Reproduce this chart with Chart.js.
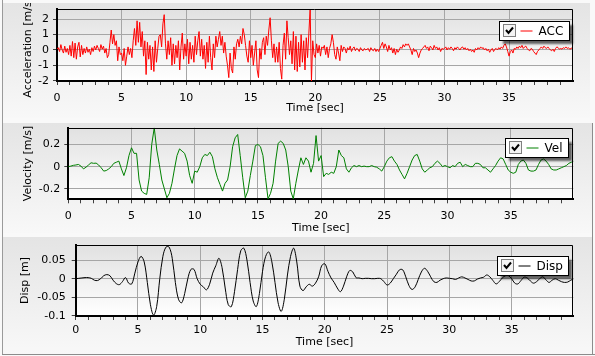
<!DOCTYPE html>
<html><head><meta charset="utf-8">
<script src="https://cdn.jsdelivr.net/npm/chart.js@4.4.1/dist/chart.umd.min.js"></script>
<style>
html,body{margin:0;padding:0;background:#f9f9f9;width:595px;height:356px;overflow:hidden;position:relative}
.lline{position:absolute;left:2px;top:0;width:1px;height:355px;background:#9a9a9a}
.bline{position:absolute;left:2px;top:354px;width:593px;height:1px;background:#8c8c8c}
.rline{position:absolute;left:592px;top:123px;width:1px;height:231px;background:#8c8c8c}
.panel{position:absolute;left:3px;overflow:hidden;background:linear-gradient(#e4e4e4,#f8f8f8)}
canvas{display:block}
</style></head><body>
<div class="lline"></div><div class="rline"></div><div class="bline"></div>
<div class="panel" style="top:3px;width:587px;height:115px"><canvas id="c1" width="587" height="115"></canvas></div>
<div class="panel" style="top:123px;width:589px;height:110px"><canvas id="c2" width="589" height="110"></canvas></div>
<div class="panel" style="top:237px;width:589px;height:117px"><canvas id="c3" width="589" height="117"></canvas></div>
<script>
// ---------------- data ----------------
const timeMax = 39.95;
const timeMajorTicks = [0, 5, 10, 15, 20, 25, 30, 35];
const accTicks = [-2, -1, 0, 1, 2];
const velTicks = [-0.2, 0, 0.2];
const dispTicks = [-0.1, -0.05, 0, 0.05];

const accStep = 0.1;   // seconds between acceleration samples
const accValues = [
 0.05, 0.15, -0.1, 0.35, 0.0, -0.2, 0.25, -0.15, 0.1, -0.3,
 0.3, -0.4, 0.55, -0.5, 0.45, -0.6, 0.2, 0.5, -0.45, 0.3,
 -0.3, 0.1, -0.2, 0.2, -0.15, 0.05, -0.3, 0.15, -0.1, 0.25,
 0.0, 0.3, 0.1, -0.1, 0.35, 0.05, 0.25, -0.2, 0.1, -0.5,
 -0.3, 0.5, 1.3, 0.4, 1.0, 0.3, 0.6, -0.7, 0.2, -0.3,
 -0.2, -0.7, 0.1, -1.0, -0.4, 0.2, -0.3, 0.1, -0.5, 0.6,
 1.4, 0.3, 1.9, 0.5, 1.8, 0.2, 1.2, -0.4, 0.6, -1.6,
 0.5, -0.6, 0.3, -1.3, 0.2, -1.4, 0.6, -0.8, 0.1, 0.9,
 1.0, 0.2, 1.7, 2.3, 0.4, -0.6, 0.6, -0.3, 0.8, -1.0,
 0.4, -0.9, 0.3, -0.5, 0.6, -1.3, 0.2, 1.1, -0.6, 0.4,
 -0.4, 0.7, -0.9, 0.5, -0.6, 0.3, -0.8, 0.9, -0.3, 0.6,
 1.2, -0.4, 0.7, -0.6, 0.3, -1.2, 0.5, -0.8, 0.9, -0.5,
 -1.3, 0.4, -0.5, 0.9, 0.2, 0.7, 1.2, 0.3, 0.9, -0.2,
 0.5, -0.4, -1.0, -1.8, -0.2, -1.2, -1.5, 0.2, -0.6, 0.4,
 0.7, 0.2, 0.9, 0.4, 1.4, 1.0, 0.3, -0.4, -0.8, 0.6,
 -0.5, 0.3, -1.0, -0.2, 0.6, -1.3, -1.8, 0.1, -0.6, 0.5,
 0.8, -0.3, 0.9, 0.3, 1.3, 2.1, 0.6, -0.5, 0.4, -0.8,
 0.2, -0.8, 0.5, -1.2, -1.9, 0.3, 1.1, -0.6, 1.9, 0.8,
 -0.3, 0.6, -0.9, 1.2, -1.3, 0.9, -1.4, 0.5, -1.1, 1.0,
 -0.8, 0.6, -1.3, 0.8, -0.5, 1.1, 2.7, -2.05, 0.6, -0.3,
 -0.5, 0.4, -0.2, 0.3, -0.4, 0.2, 0.1, 0.3, -0.3, 0.2,
 -0.5, 0.1, 0.4, 1.0, 0.5, -0.3, -0.6, 0.2, -0.2, -0.7,
 0.3, -0.1, 0.2, 0.1, -0.2, 0.15, 0.0, 0.25, -0.1, 0.1,
 0.2, -0.05, 0.1, 0.05, -0.1, 0.15, 0.0, -0.05, 0.1, 0.0,
 0.05, 0.1, -0.1, 0.15, 0.0, -0.05, 0.1, -0.1, 0.05, -0.1,
 0.1, 0.3, 0.5, 0.1, 0.4, 0.2, -0.1, 0.3, 0.0, 0.15,
 -0.2, 0.1, -0.3, 0.05, -0.15, 0.0, 0.2, 0.1, 0.35, 0.2,
 0.4, 0.3, 0.4, 0.2, 0.0, -0.3, 0.1, -0.1, 0.0, -0.2,
 -0.5, -0.2, 0.0, 0.1, 0.2, 0.3, 0.1, 0.2, -0.05, 0.25,
 0.15, 0.0, 0.3, 0.1, 0.2, 0.0, 0.15, -0.1, 0.1, 0.05,
 0.1, 0.2, 0.0, 0.15, 0.05, 0.2, 0.1, -0.05, 0.15, 0.05,
 0.2, 0.1, 0.0, 0.15, 0.2, 0.05, 0.15, 0.0, 0.1, -0.05,
 0.05, -0.1, 0.0, -0.15, 0.1, 0.0, 0.15, 0.05, 0.2, 0.1,
 0.15, 0.0, 0.1, -0.05, 0.05, -0.15, 0.0, 0.1, -0.1, 0.05,
 0.1, 0.0, 0.15, 0.05, 0.2, 0.1, 0.3, 0.4, 0.2, -0.1,
 -0.4, -0.1, 0.0, -0.2, 0.1, 0.05, 0.2, 0.1, 0.25, 0.15,
 0.3, 0.1, 0.2, 0.25, 0.1, 0.0, -0.05, 0.1, 0.05, -0.1,
 -0.2, -0.3, -0.1, 0.0, 0.1, 0.2, 0.1, 0.25, 0.15, 0.1,
 0.2, 0.1, 0.0, -0.05, 0.05, -0.1, 0.1, 0.2, 0.15, 0.05,
 0.1, 0.05, 0.15, 0.1, 0.2, 0.1, 0.15, 0.05, 0.1, 0.15,
 0.1
];

const velStep = 0.2;
const velValues = [
 0.0, 0.005, 0.012, 0.015, 0.02, 0.005, -0.02, -0.005, 0.015, 0.035,
 0.03, 0.032, 0.015, -0.01, -0.04, -0.035, -0.02, 0.0, 0.03, 0.04,
 0.05, -0.02, -0.08, -0.01, 0.1, 0.17, 0.12, 0.12, -0.12, -0.22,
 -0.24, -0.25, -0.1, 0.2, 0.35, 0.15, 0.02, -0.12, -0.2, -0.28,
 -0.24, -0.15, -0.02, 0.1, 0.16, 0.14, 0.12, 0.05, -0.08, -0.15,
 -0.04, -0.05, 0.0, 0.08, 0.11, 0.1, 0.13, 0.09, -0.02, -0.1,
 -0.16, -0.22, -0.15, -0.12, 0.0, 0.18, 0.26, 0.29, 0.1, -0.1,
 -0.28, -0.22, -0.08, 0.05, 0.19, 0.2, 0.18, 0.1, -0.1, -0.29,
 -0.24, -0.15, 0.05, 0.21, 0.23, 0.21, 0.15, 0.0, -0.22, -0.29,
 -0.15, -0.03, 0.08, 0.02, 0.08, 0.05, -0.05, 0.03, 0.28, 0.05,
 0.1, -0.09, -0.06, -0.07, -0.05, -0.06, 0.0, 0.15, 0.1, 0.08,
 -0.02, -0.05, -0.01, 0.01, 0.0, 0.01, 0.0, 0.005, 0.0, 0.0,
 0.01, 0.0, -0.005, -0.02, -0.04, 0.0, 0.05, 0.08, 0.09, 0.05,
 0.02, -0.03, -0.07, -0.11, -0.06, 0.0, 0.06, 0.1, 0.11, 0.05,
 -0.02, -0.05, -0.03, -0.01, 0.0, 0.03, 0.05, 0.03, 0.0, 0.01,
 0.0, -0.01, 0.01, 0.0, 0.03, 0.04, 0.0, 0.02, 0.01, 0.0,
 0.0, 0.03, 0.03, 0.02, -0.01, -0.01, -0.03, -0.05, -0.02, 0.01,
 0.05, 0.08, 0.07, 0.02, -0.03, -0.05, -0.06, -0.05, 0.02, 0.05,
 0.06, 0.03, -0.03, -0.04, -0.04, -0.03, 0.02, 0.06, 0.07, 0.05,
 0.02, -0.02, -0.03, -0.03, -0.02, -0.01, 0.0, 0.01, 0.03, 0.04,
 0.05
];

const dispStep = 0.25;
const dispValues = [
 0.0, 0.001, 0.002, 0.003, 0.003, 0.001, -0.004, -0.005, 0.0, 0.008,
 0.011, 0.008, -0.004, -0.013, -0.016, -0.008, 0.003, -0.012, -0.014, 0.015,
 0.045, 0.06, 0.045, -0.01, -0.07, -0.098, -0.075, 0.0, 0.06, 0.085,
 0.085, 0.055, -0.01, -0.055, -0.065, -0.04, 0.0, 0.025, 0.025, 0.0,
 -0.015, -0.022, -0.03, -0.015, 0.015, 0.035, 0.055, 0.03, -0.025, -0.07,
 -0.075, -0.035, 0.025, 0.075, 0.082, 0.05, -0.01, -0.06, -0.075, -0.04,
 0.02, 0.06, 0.072, 0.045, -0.01, -0.065, -0.088, -0.055, 0.01, 0.06,
 0.082, 0.045, -0.02, -0.032, -0.022, -0.015, -0.02, -0.012, 0.005, 0.035,
 0.04, 0.02, 0.002, -0.01, -0.025, -0.035, -0.02, 0.005, 0.022, 0.018,
 0.003, 0.002, 0.0, 0.001, 0.001, 0.0, 0.0, 0.001, 0.0, -0.008,
 -0.017, -0.012, 0.0, 0.012, 0.024, 0.024, 0.005, -0.018, -0.029, -0.022,
 -0.002, 0.018, 0.028, 0.02, 0.005, -0.008, -0.01, -0.004, 0.0, 0.002,
 0.001, 0.0, -0.002, 0.002, 0.005, 0.002, -0.002, -0.006, -0.006, -0.001,
 0.002, 0.004, 0.01, 0.005, -0.005, -0.014, -0.008, 0.002, 0.008, 0.008,
 0.0, -0.012, -0.014, -0.005, 0.004, 0.002, -0.006, -0.012, -0.008, 0.0,
 0.005, -0.003, -0.01, -0.004, 0.0, -0.004, -0.008, -0.01, -0.009, -0.004,
 0.0
];

// ---------------- drawing ----------------
const FONT = '"DejaVu Sans", Verdana, sans-serif';
const gridColor = '#a6a6a6';
const minorTimes = [];
for (let t = 0; t < 40; t++) minorTimes.push(t);

const panelPlugin = {
  id: 'panelDeco',
  beforeDraw(chart) {
    const { ctx, chartArea: a } = chart;
    const g = ctx.createLinearGradient(0, a.top, 0, a.bottom);
    g.addColorStop(0, '#e1e1e1');
    g.addColorStop(1, '#ffffff');
    ctx.save();
    ctx.fillStyle = g;
    ctx.fillRect(a.left, a.top, a.right - a.left, a.bottom - a.top);
    ctx.restore();
  },
  afterDraw(chart, args, o) {
    const { ctx, chartArea: a } = chart;
    ctx.save();
    ctx.strokeStyle = '#000'; ctx.lineWidth = 1;
    ctx.beginPath();
    ctx.moveTo(a.left, Math.round(a.top) + 0.5);
    ctx.lineTo(Math.round(a.right) - 0.5, Math.round(a.top) + 0.5);
    ctx.lineTo(Math.round(a.right) - 0.5, a.bottom);
    ctx.stroke();
    // legend box
    ctx.font = '12px ' + FONT;
    const tw = ctx.measureText(o.label).width;
    const w = Math.round(4 + 12 + 5 + 12 + 6 + tw + 6), h = 19;
    const bx = Math.round(a.right - o.right - w) + 0.5, by = Math.round(a.top + o.top) + 0.5;
    ctx.shadowColor = 'rgba(0,0,0,0.6)'; ctx.shadowOffsetX = 3; ctx.shadowOffsetY = 3; ctx.shadowBlur = 2;
    ctx.fillStyle = '#fff'; ctx.fillRect(bx, by, w, h);
    ctx.shadowColor = 'rgba(0,0,0,0)'; ctx.shadowOffsetX = 0; ctx.shadowOffsetY = 0; ctx.shadowBlur = 0;
    ctx.strokeStyle = '#000'; ctx.strokeRect(bx, by, w, h);
    // checkbox
    const cx = bx + 4, cy = by + 3;
    ctx.fillStyle = '#f4f4f4'; ctx.fillRect(cx, cy, 12, 12);
    ctx.strokeStyle = '#808080'; ctx.strokeRect(cx, cy, 12, 12);
    ctx.strokeStyle = '#000'; ctx.lineWidth = 2;
    ctx.beginPath();
    ctx.moveTo(cx + 2.5, cy + 5.5); ctx.lineTo(cx + 5, cy + 8.5); ctx.lineTo(cx + 9.5, cy + 3);
    ctx.stroke();
    // line sample
    ctx.lineWidth = 1; ctx.strokeStyle = o.color;
    const ly = Math.round(by + h / 2);
    ctx.beginPath(); ctx.moveTo(cx + 17, ly); ctx.lineTo(cx + 29, ly); ctx.stroke();
    ctx.fillStyle = '#000'; ctx.textBaseline = 'middle'; ctx.textAlign = 'left';
    ctx.fillText(o.label, cx + 35, by + h / 2 + 0.5);
    ctx.restore();
  }
};

function makeChart(id, s) {
  const pts = s.values.map((v, i) => ({ x: Math.round(i * s.step * 1000) / 1000, y: v }));
  return new Chart(document.getElementById(id), {
    type: 'line',
    data: { datasets: [{ data: pts, borderColor: s.color, borderWidth: 1, pointRadius: 0, tension: s.tension, fill: false }] },
    options: {
      responsive: false, animation: false, devicePixelRatio: 1, events: [],
      layout: { padding: { top: s.padTop, right: s.padRight, left: 0, bottom: 0 } },
      plugins: {
        legend: { display: false }, tooltip: { enabled: false },
        panelDeco: { label: s.label, color: s.color, top: s.legTop, right: s.legRight }
      },
      scales: {
        x: {
          type: 'linear', min: 0, max: timeMax,
          afterBuildTicks: sc => { sc.ticks = minorTimes.map(v => ({ value: v })); },
          afterFit: sc => { sc.height = s.xHeight; sc.paddingLeft = 0; sc.paddingRight = 0; },
          grid: {
            color: c => (c.tick && timeMajorTicks.includes(c.tick.value)) ? gridColor : 'rgba(0,0,0,0)',
            tickColor: '#404040', tickLength: 4, lineWidth: 1
          },
          border: { display: true, color: '#000', width: 2 },
          ticks: {
            autoSkip: false, maxRotation: 0, minRotation: 0, padding: s.xTickPad, color: '#000',
            font: { family: FONT, size: 11 },
            callback: v => timeMajorTicks.includes(v) ? String(v) : ''
          },
          title: {
            display: true, text: 'Time [sec]', color: '#000',
            font: { family: FONT, size: 11, lineHeight: 1.2 }, padding: { top: 0, bottom: s.xTitlePad }
          }
        },
        y: {
          type: 'linear', min: s.yMin, max: s.yMax,
          afterBuildTicks: sc => { sc.ticks = s.yTicks.map(v => ({ value: v })); },
          afterFit: sc => { sc.width = s.yWidth; sc.paddingTop = 0; sc.paddingBottom = 0; },
          grid: { color: gridColor, tickColor: '#404040', tickLength: 4, lineWidth: 1 },
          border: { display: true, color: '#000', width: 2 },
          ticks: { padding: s.yTickPad, color: '#000', font: { family: FONT, size: 11 }, callback: v => String(v) },
          title: {
            display: true, text: s.yTitle, color: '#000',
            font: { family: FONT, size: 11, lineHeight: 1.2 }, padding: { top: s.yTitlePad, bottom: 0 }
          }
        }
      }
    },
    plugins: [panelPlugin]
  });
}

makeChart('c1', {
  values: accValues, step: accStep, color: '#ff0000', tension: 0,
  yMin: -2.02, yMax: 2.65, yTicks: accTicks, yTitle: 'Acceleration [m/s²]', label: 'ACC',
  yWidth: 54, padTop: 6.3, padRight: 17, xHeight: 37,
  xTickPad: 7, xTitlePad: 3, yTickPad: 4, yTitlePad: 18.4, legTop: 11.4, legRight: 4
});
makeChart('c2', {
  values: velValues, step: velStep, color: '#008000', tension: 0,
  yMin: -0.294, yMax: 0.351, yTicks: velTicks, yTitle: 'Velocity [m/s]', label: 'Vel',
  yWidth: 65.3, padTop: 4.7, padRight: 18.7, xHeight: 33.7,
  xTickPad: 6, xTitlePad: -2, yTickPad: 4, yTitlePad: 18.4, legTop: 10.6, legRight: 5
});
makeChart('c3', {
  values: dispValues, step: dispStep, color: '#000000', tension: 0.35,
  yMin: -0.1003, yMax: 0.0906, yTicks: dispTicks, yTitle: 'Disp [m]', label: 'Disp',
  yWidth: 72.7, padTop: 8, padRight: 18.7, xHeight: 38,
  xTickPad: 4, xTitlePad: 5.4, yTickPad: 6, yTitlePad: 15.4, legTop: 10.7, legRight: 5
});
</script>
</body></html>
